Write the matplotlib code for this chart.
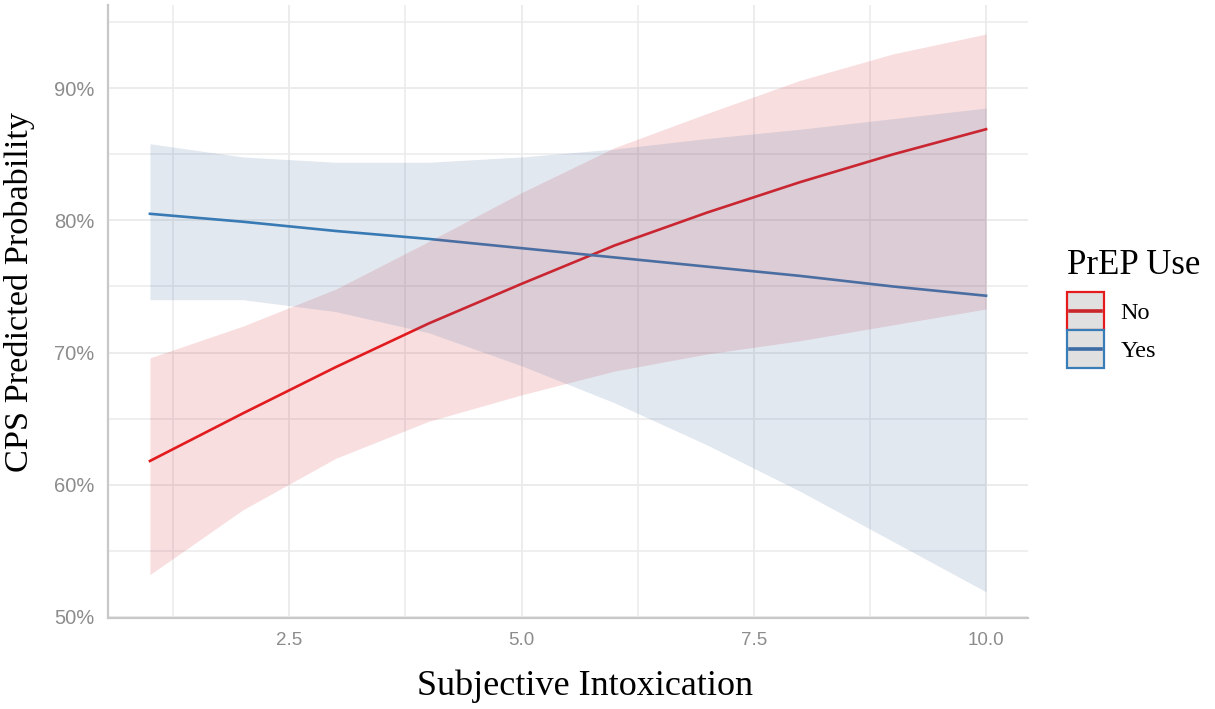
import matplotlib
matplotlib.use("Agg")
import matplotlib.pyplot as plt
from matplotlib.patches import Rectangle
from matplotlib.lines import Line2D
from matplotlib.ticker import PercentFormatter, MultipleLocator

# predicted probabilities by subjective intoxication level
intox = [1, 2, 3, 4, 5, 6, 7, 8, 9, 10]

no_fit = [0.618, 0.654, 0.689, 0.722, 0.752, 0.781, 0.806, 0.829, 0.850, 0.869]
no_low = [0.532, 0.581, 0.620, 0.648, 0.668, 0.686, 0.699, 0.709, 0.721, 0.733]
no_high = [0.696, 0.720, 0.748, 0.784, 0.821, 0.855, 0.881, 0.906, 0.926, 0.941]

yes_fit = [0.805, 0.799, 0.792, 0.786, 0.779, 0.772, 0.765, 0.758, 0.750, 0.743]
yes_low = [0.740, 0.740, 0.731, 0.715, 0.690, 0.662, 0.630, 0.595, 0.557, 0.519]
yes_high = [0.858, 0.848, 0.844, 0.844, 0.848, 0.854, 0.862, 0.869, 0.877, 0.885]

groups = ["No", "Yes"]
line_colors = {"No": "#E41A1C", "Yes": "#377EB8"}
band_colors = {"No": "#D4232E", "Yes": "#40679F"}
key_line = {"No": "#C9252B", "Yes": "#3C6CA3"}

serif = "Liberation Serif"
sans = "Liberation Sans"


class BoxLineKey:
    # grey key box with coloured border and a centred line
    def legend_artist(self, legend, orig_handle, fontsize, handlebox):
        x0, y0 = -handlebox.xdescent, -handlebox.ydescent
        w, h = handlebox.width, handlebox.height
        tr = handlebox.get_transform()
        rect = Rectangle((x0, y0), w, h, facecolor="#E0E0E0",
                         edgecolor=orig_handle.get_markeredgecolor(), lw=1.6, transform=tr)
        ln = Line2D([x0 + 0.08 * w, x0 + 0.92 * w], [y0 + h / 2, y0 + h / 2],
                    color=orig_handle.get_color(), lw=2.6, transform=tr)
        handlebox.add_artist(rect)
        handlebox.add_artist(ln)
        return rect


fig = plt.figure(figsize=(12.15, 7.09), dpi=100)
ax = fig.add_axes([0.089, 0.128, 0.757, 0.865])

# lines first, ribbons on top (alpha blends over the lines)
ax.plot(intox, no_fit, color=line_colors["No"], lw=1.9, zorder=2)
ax.plot(intox, yes_fit, color=line_colors["Yes"], lw=1.9, zorder=2)
ax.fill_between(intox, no_low, no_high, color=band_colors["No"], alpha=0.15, lw=0, zorder=3)
ax.fill_between(intox, yes_low, yes_high, color=band_colors["Yes"], alpha=0.15, lw=0, zorder=3)

ax.set_xlim(0.55, 10.45)
ax.set_ylim(0.499, 0.963)

ax.xaxis.set_major_locator(MultipleLocator(2.5))
ax.xaxis.set_minor_locator(MultipleLocator(1.25))
ax.yaxis.set_major_locator(MultipleLocator(0.1))
ax.yaxis.set_minor_locator(MultipleLocator(0.05))
ax.yaxis.set_major_formatter(PercentFormatter(1.0, decimals=0))

ax.grid(which="major", color="#EBEBEB", lw=1.3, zorder=0)
ax.grid(which="minor", color="#EBEBEB", lw=1.1, zorder=0)
ax.set_axisbelow(True)

for s in ["top", "right"]:
    ax.spines[s].set_visible(False)
for s in ["left", "bottom"]:
    ax.spines[s].set_color("#C8C8C8")
    ax.spines[s].set_linewidth(1.6)

ax.tick_params(which="both", length=0)
ax.tick_params(axis="x", pad=10, labelsize=13.5, labelcolor="#8C8C8C")
ax.tick_params(axis="y", pad=10, labelsize=14.5, labelcolor="#8C8C8C")
for lab in ax.get_xticklabels() + ax.get_yticklabels():
    lab.set_fontfamily(sans)

ax.set_xlabel("Subjective Intoxication", fontfamily=serif, fontsize=26, labelpad=12)
ax.set_ylabel("CPS Predicted Probability", fontfamily=serif, fontsize=24.7, labelpad=7)
ax.xaxis.set_label_coords(0.518, -0.083)
ax.yaxis.set_label_coords(-0.079, 0.532)

handles = [Line2D([], [], color=key_line[g], markeredgecolor=line_colors[g]) for g in groups]

leg = fig.legend(handles, groups, handler_map={Line2D: BoxLineKey()},
                 loc="upper left", bbox_to_anchor=(0.870, 0.663), frameon=False,
                 title="PrEP Use", handlelength=1.55, handleheight=2.03,
                 labelspacing=0.0, handletextpad=0.65, borderaxespad=0,
                 prop={"family": serif, "size": 17.5})
leg.get_title().set_fontfamily(serif)
leg.get_title().set_fontsize(25)
leg._legend_box.align = "left"
leg._legend_box.sep = 7.5

fig.savefig("out.png", dpi=100, facecolor="white")
